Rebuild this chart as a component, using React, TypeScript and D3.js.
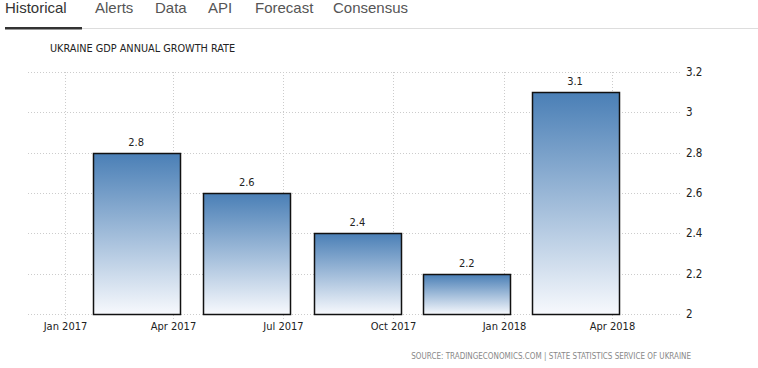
import React from "react";
import * as d3 from "d3";

const W = 758;
const H = 368;

// chart data
const dates = ["2017-03-01", "2017-06-01", "2017-09-01", "2017-12-01", "2018-03-01"];
const growth = [2.8, 2.6, 2.4, 2.2, 3.1];
const xTicks = ["2017-01-01", "2017-04-01", "2017-07-01", "2017-10-01", "2018-01-01", "2018-04-01"];
const yTicks = [2, 2.2, 2.4, 2.6, 2.8, 3, 3.2];
const tabs = ["Historical", "Alerts", "Data", "API", "Forecast", "Consensus"];
const tabX = [5, 95, 155, 208, 255, 333];

const parse = d3.utcParse("%Y-%m-%d");
const fmtMonth = d3.utcFormat("%b %Y");

const App = () => {
  const x = d3
    .scaleUtc()
    .domain([parse("2016-12-01")!, parse("2018-05-29")!])
    .range([28, 682]);
  const y = d3.scaleLinear().domain([2, 3.2]).range([314, 72]);
  const barW = 87;
  const chartFont = "'DejaVu Sans Condensed', 'DejaVu Sans', sans-serif";

  return (
    <svg
      width={W}
      height={H}
      style={{ position: "absolute", left: 0, top: 0, background: "#fff" }}
    >
      <defs>
        <linearGradient id="barFill" x1="0" y1="0" x2="0" y2="1">
          <stop offset="0%" stopColor="#4a7fb6" />
          <stop offset="100%" stopColor="#f7f9fd" />
        </linearGradient>
      </defs>

      {/* tabs */}
      {tabs.map((t, i) => (
        <text
          key={t}
          x={tabX[i]}
          y={13}
          fontFamily="'Liberation Sans', Arial, sans-serif"
          fontSize={15}
          fill={i === 0 ? "#333" : "#555"}
        >
          {t}
        </text>
      ))}
      <line x1={81} x2={W} y1={28.5} y2={28.5} stroke="#ddd" />
      <rect x={5} y={27} width={77} height={2.5} fill="#333" />

      <text x={50} y={52} fontFamily={chartFont} fontSize={10.8} fill="#222">
        UKRAINE GDP ANNUAL GROWTH RATE
      </text>

      {/* grid */}
      {yTicks.map((t) => (
        <g key={t}>
          <line
            x1={28}
            x2={682}
            y1={Math.round(y(t)) + 0.5}
            y2={Math.round(y(t)) + 0.5}
            stroke="#ccc"
            strokeDasharray="1,2"
          />
          <text
            x={686}
            y={y(t) + 4}
            fontFamily={chartFont}
            fontSize={11.5}
            fill="#222"
          >
            {t}
          </text>
        </g>
      ))}
      {xTicks.map((d) => {
        const px = Math.round(x(parse(d)!)) + 0.5;
        return (
          <g key={d}>
            <line
              x1={px}
              x2={px}
              y1={72}
              y2={319}
              stroke="#ccc"
              strokeDasharray="1,2"
            />
            <text
              x={px}
              y={330}
              textAnchor="middle"
              fontFamily={chartFont}
              fontSize={11}
              fill="#222"
            >
              {fmtMonth(parse(d)!)}
            </text>
          </g>
        );
      })}

      {/* bars */}
      {growth.map((v, i) => {
        const cx = x(parse(dates[i])!);
        const top = y(v);
        return (
          <g key={dates[i]}>
            <rect
              x={Math.round(cx - barW / 2) + 0.5}
              y={Math.round(top) + 0.5}
              width={barW}
              height={y(2) - Math.round(top)}
              fill="url(#barFill)"
              stroke="#111"
              strokeWidth={1.5}
            />
            <text
              x={cx}
              y={top - 7}
              textAnchor="middle"
              fontFamily={chartFont}
              fontSize={11}
              fill="#222"
            >
              {v}
            </text>
          </g>
        );
      })}

      <text
        x={691}
        y={359}
        textAnchor="end"
        fontFamily={chartFont}
        fontSize={8}
        fill="#888"
      >
        SOURCE: TRADINGECONOMICS.COM | STATE STATISTICS SERVICE OF UKRAINE
      </text>
    </svg>
  );
};

export default App;
